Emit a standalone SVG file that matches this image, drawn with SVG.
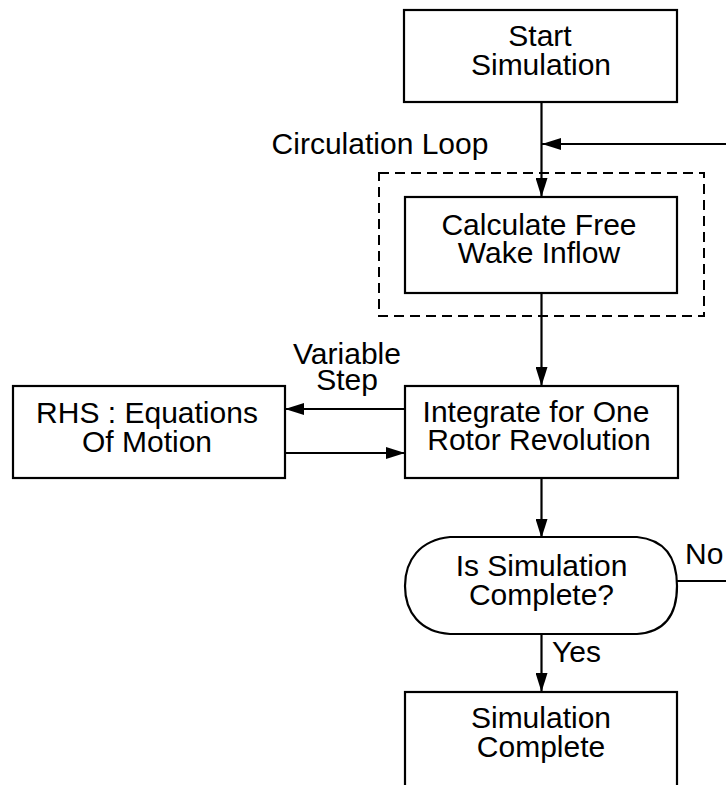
<svg xmlns="http://www.w3.org/2000/svg" width="726" height="785" viewBox="0 0 726 785">
<style>
.box{fill:#fff;stroke:#000;stroke-width:2.2}
.ln{fill:none;stroke:#000;stroke-width:2.2}
.dash{fill:none;stroke:#000;stroke-width:2;stroke-dasharray:10 6}
text{font-family:"Liberation Sans",Arial,sans-serif;font-size:30px;fill:#000}
.c{text-anchor:middle}
</style>
<defs>
<marker id="ah" markerWidth="20" markerHeight="12" refX="19" refY="6" orient="auto" markerUnits="userSpaceOnUse">
<path d="M0,0 L19,6 L0,12 Z" fill="#000"/>
</marker>
</defs>
<rect x="0" y="0" width="726" height="785" fill="#fff"/>
<g id="loop-region">
<rect class="dash" x="379" y="173" width="325" height="143"/>
<text x="380" y="154" class="c">Circulation Loop</text>
</g>
<g id="connectors">
<line class="ln" x1="541.5" y1="102" x2="541.5" y2="197" marker-end="url(#ah)"/>
<line class="ln" x1="726" y1="144" x2="542" y2="144" marker-end="url(#ah)"/>
<line class="ln" x1="541.5" y1="293" x2="541.5" y2="386" marker-end="url(#ah)"/>
<line class="ln" x1="405" y1="409" x2="285" y2="409" marker-end="url(#ah)"/>
<line class="ln" x1="285" y1="453" x2="405" y2="453" marker-end="url(#ah)"/>
<line class="ln" x1="541.5" y1="478" x2="541.5" y2="538" marker-end="url(#ah)"/>
<line class="ln" x1="541.5" y1="634" x2="541.5" y2="692" marker-end="url(#ah)"/>
<line class="ln" x1="677" y1="581" x2="726" y2="581"/>
<text x="347" y="364" class="c">Variable</text>
<text x="347" y="390" class="c">Step</text>
<text x="685" y="564">No</text>
<text x="552" y="662">Yes</text>
</g>
<g id="start">
<rect class="box" x="404" y="10" width="273" height="92"/>
<text x="540" y="46" class="c">Start</text>
<text x="541" y="75" class="c">Simulation</text>
</g>
<g id="calc">
<rect class="box" x="405" y="197" width="272" height="96"/>
<text x="539" y="235" class="c">Calculate Free</text>
<text x="539" y="263" class="c">Wake Inflow</text>
</g>
<g id="integrate">
<rect class="box" x="405" y="386" width="273" height="92"/>
<text x="536" y="422" class="c">Integrate for One</text>
<text x="539" y="450" class="c">Rotor Revolution</text>
</g>
<g id="rhs">
<rect class="box" x="13" y="386" width="272" height="92"/>
<text x="147" y="423" class="c">RHS : Equations</text>
<text x="147" y="452" class="c">Of Motion</text>
</g>
<g id="decision">
<path class="box" d="M450,537 H637 C667,540 677,560 677,586 C677,612 667,632 637,634 H450 C420,632 405,612 405,586 C405,560 420,540 450,537 Z"/>
<text x="541.5" y="576" class="c">Is Simulation</text>
<text x="541.5" y="605" class="c">Complete?</text>
</g>
<g id="complete">
<rect class="box" x="405" y="692" width="272" height="120"/>
<text x="541" y="728" class="c">Simulation</text>
<text x="541" y="757" class="c">Complete</text>
</g>
</svg>
